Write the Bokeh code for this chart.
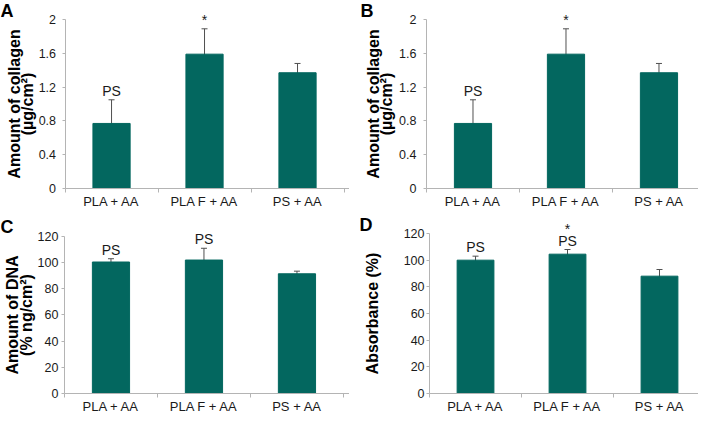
from bokeh.plotting import figure
from bokeh.layouts import gridplot
from bokeh.models import (ColumnDataSource, Whisker, TeeHead, Label, LabelSet,
                          FixedTicker, Range1d, NumeralTickFormatter, CustomJSTickFormatter)
from bokeh.core.properties import value
from bokeh.embed import file_html
from bokeh.resources import INLINE

categories = ["PLA + AA", "PLA F + AA", "PS + AA"]

collagen_mean = [0.77, 1.59, 1.37]
collagen_lower = [0.48, 1.29, 1.25]
collagen_upper = [1.05, 1.89, 1.48]
collagen_ps = ["PS", "", ""]
collagen_star = ["", "*", ""]
collagen_ticks = [0, 0.4, 0.8, 1.2, 1.6, 2]

dna_mean = [100.5, 102, 91.5]
dna_lower = [98, 93, 90]
dna_upper = [103, 111, 93.5]
dna_ps = ["PS", "PS", ""]
dna_star = ["", "", ""]

abs_mean = [100, 104.5, 88]
abs_lower = [97, 101, 83]
abs_upper = [103, 108, 93]
abs_ps = ["PS", "PS", ""]
abs_star = ["", "*", ""]

percent_ticks = [0, 20, 40, 60, 80, 100, 120]

FONT = "Liberation Sans"
BAR = "#03675f"
AXIS = "#b4b4b4"
TXT = "#1a1a1a"


def panel(mean, lower, upper, ps, star, ticks, yr, ylabel, letter, height, xr,
          letter_xy, tick_standoff, label_standoff, star_offset):
    p = figure(width=349, height=height, output_backend="svg", toolbar_location=None,
               x_range=Range1d(*xr), y_range=Range1d(*yr),
               min_border_left=0, min_border_right=0, min_border_top=0,
               min_border_bottom=0)
    p.outline_line_color = None
    p.xgrid.visible = False
    p.ygrid.visible = False
    xs = [i + 0.5 for i in range(len(categories))]
    src = ColumnDataSource(dict(x=xs, top=mean, lower=lower, upper=upper, ps=ps, star=star))
    p.vbar(x="x", top="top", bottom=ticks[0], width=0.4, source=src,
           fill_color=BAR, line_color=BAR)
    w = Whisker(source=src, base="x", upper="upper", lower="lower",
                line_color="#505050", line_width=1,
                upper_head=TeeHead(size=6, line_color="#505050", line_width=1),
                lower_head=TeeHead(size=6, line_color="#505050", line_width=1))
    p.add_layout(w)
    p.add_layout(LabelSet(x="x", y="upper", text="ps", source=src, text_align="center",
                          text_baseline="alphabetic", y_offset=4, text_font=value(FONT),
                          text_font_size="14px", text_color=TXT))
    p.add_layout(LabelSet(x="x", y="upper", text="star", source=src, text_align="center",
                          text_baseline="alphabetic", y_offset=star_offset,
                          text_font=value(FONT), text_font_size="14px", text_color=TXT))

    xa = p.xaxis[0]
    xa.fixed_location = ticks[0]
    xa.bounds = (0, xr[1])
    xa.ticker = FixedTicker(ticks=xs, minor_ticks=[float(i) for i in range(len(categories) + 1)])
    xa.formatter = CustomJSTickFormatter(args=dict(labels=categories),
                                         code="return labels[Math.floor(tick)] || ''")
    xa.major_tick_out = 0
    xa.major_tick_in = 0
    xa.minor_tick_out = 4
    xa.minor_tick_in = 0
    xa.minor_tick_line_color = AXIS
    xa.axis_line_color = AXIS
    xa.major_label_standoff = 1
    xa.major_label_text_font = FONT
    xa.major_label_text_font_size = "13px"
    xa.major_label_text_color = TXT

    ya = p.yaxis[0]
    ya.fixed_location = 0
    ya.bounds = (ticks[0], ticks[-1])
    ya.ticker = FixedTicker(ticks=ticks, minor_ticks=[])
    ya.formatter = NumeralTickFormatter(format="0.[0]")
    ya.major_tick_out = 3
    ya.major_tick_in = 0
    ya.major_tick_line_color = AXIS
    ya.axis_line_color = AXIS
    ya.major_label_standoff = tick_standoff
    ya.major_label_text_font = FONT
    ya.major_label_text_font_size = "12.5px"
    ya.major_label_text_color = TXT
    ya.axis_label = ylabel
    ya.axis_label_text_font = FONT
    ya.axis_label_text_font_style = "bold"
    ya.axis_label_text_font_size = "16px"
    ya.axis_label_text_color = "#000000"
    ya.axis_label_text_line_height = 0.8
    ya.axis_label_standoff = label_standoff

    p.add_layout(Label(x=letter_xy[0], y=letter_xy[1], x_units="screen", y_units="screen",
                       text=letter, text_font=FONT, text_font_style="bold",
                       text_font_size="18px", text_baseline="top", text_align="left",
                       text_color="#000000"))
    return p


pa = panel(collagen_mean, collagen_lower, collagen_upper, collagen_ps, collagen_star,
           collagen_ticks, (-0.272, 2.225), "Amount of collagen\n(µg/cm²)", "A",
           211, (-0.694, 3.059), (0, 211), 6, 0, 4)
pb = panel(collagen_mean, collagen_lower, collagen_upper, collagen_ps, collagen_star,
           collagen_ticks, (-0.272, 2.225), "Amount of collagen\n(µg/cm²)", "B",
           211, (-0.828, 2.925), (11, 211), 7, 1, 4)
pc = panel(dna_mean, dna_lower, dna_upper, dna_ps, dna_star,
           percent_ticks, (-16.05, 139.1), "Amount of DNA\n(% ng/cm²)", "C",
           203, (-0.688, 3.065), (0, 198), 3, 0, 4)
pd = panel(abs_mean, abs_lower, abs_upper, abs_ps, abs_star,
           percent_ticks, (-15.75, 136.5), "Absorbance (%)", "D",
           203, (-0.87, 2.924), (10, 200), 2, 20, 16)

grid = gridplot([[pa, pb], [pc, pd]], toolbar_location=None)

open("out.html", "w").write(file_html(grid, INLINE))
